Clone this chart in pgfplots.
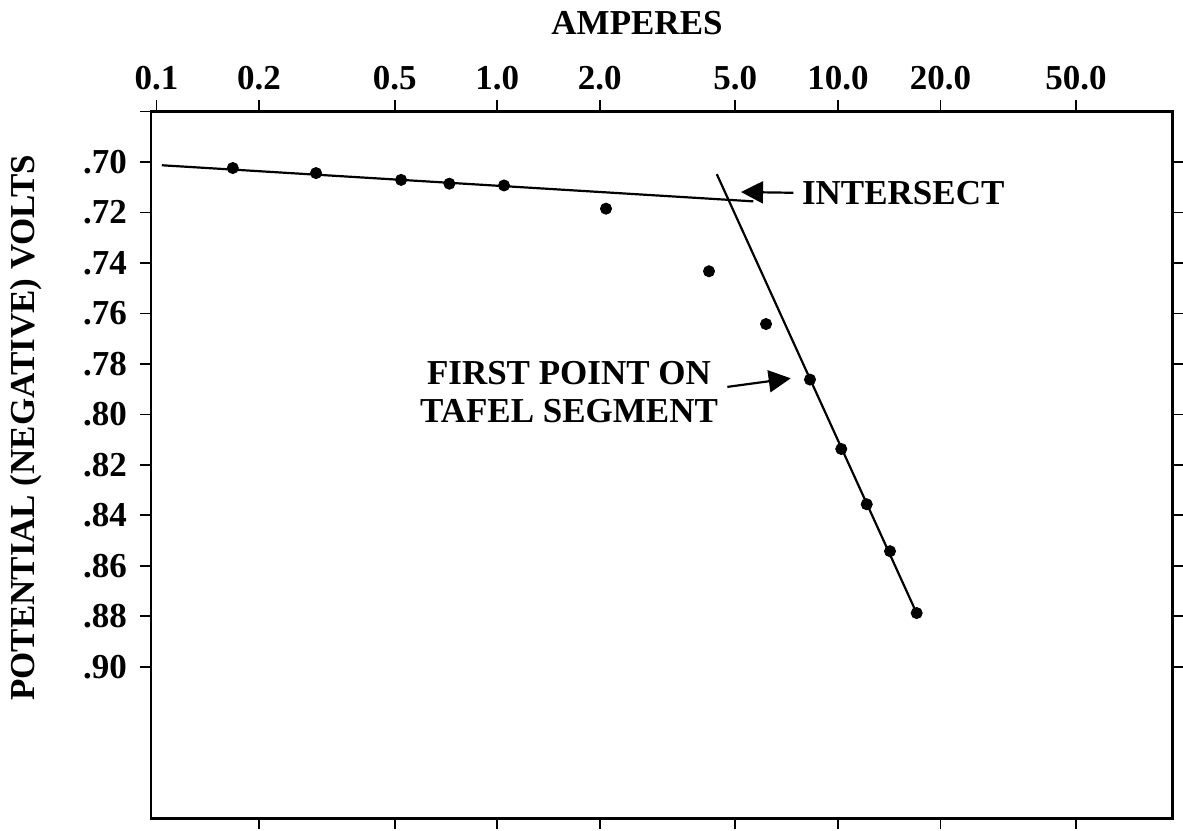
\documentclass[border=0pt]{standalone}
\usepackage{fontspec}
\setmainfont{Liberation Serif}
\usepackage{pgfplots}
\pgfplotsset{compat=1.18}
\usetikzlibrary{arrows.meta}
\newcommand{\bigb}{\fontsize{17.5}{19}\selectfont\bfseries}

\begin{document}
\begin{tikzpicture}
\begin{axis}[name=ax, scale only axis, width=510.85pt, height=353.4pt,
  xmode=log, xmin=0.0963, xmax=96.1, ymin=0.68, ymax=0.96, y dir=reverse,
  xtick={0.2,0.5,1,2,5,10,20,50},
  xticklabels={0.2,0.5,1.0,2.0,5.0,10.0,20.0,50.0},
  extra x ticks={0.1}, extra x tick labels={0.1},
  extra x tick style={xtick pos=right, xticklabel pos=right},
  xtick pos=both, xticklabel pos=right, xminorticks=false,
  ytick={0.70,0.72,0.74,0.76,0.78,0.80,0.82,0.84,0.86,0.88,0.90},
  yticklabels={.70,.72,.74,.76,.78,.80,.82,.84,.86,.88,.90},
  extra y ticks={0.68}, extra y tick labels={},
  extra y tick style={ytick pos=left},
  ytick pos=both, yticklabel pos=left,
  tick align=outside, major tick length=5.5pt,
  axis line style={line width=1.4pt},
  every tick/.style={line width=0.9pt, black},
  tick label style={font=\bigb},
  xticklabel style={yshift=1.5pt}, yticklabel style={xshift=-3pt},
  clip=false]
\addplot[only marks, mark=*, mark size=2.8pt, black] coordinates {
  (0.1674,0.7024) (0.2938,0.7044) (0.522,0.7071) (0.7236,0.7086) (1.047,0.7093)
  (2.086,0.7185) (4.184,0.7433) (6.152,0.7642) (8.28,0.7862) (10.23,0.8137)
  (12.15,0.8356) (14.22,0.8542) (17.03,0.8787)};
\addplot[black, line width=1.1pt] coordinates {(0.1036,0.7013) (5.646,0.7156)};
\addplot[black, line width=1.1pt] coordinates {(4.410,0.7048) (17.22,0.8802)};
\draw[line width=1.1pt, -{Triangle[length=11pt,width=11pt]}] (7.40,0.7122) -- (5.195,0.7119);
\node[anchor=west, font=\bigb, inner sep=0pt] at (7.83,0.7123) {INTERSECT};
\draw[line width=1.1pt, -{Triangle[length=11pt,width=11pt]}] (4.736,0.7891) -- (7.27,0.7857);
\node[font=\bigb, align=center, inner sep=0pt] at (1.624,0.7912) {FIRST POINT ON\\TAFEL SEGMENT};
\end{axis}
\node[font=\bigb] at ([shift={(243pt,44pt)}]ax.north west) {AMPERES};
\node[font=\bigb, rotate=90] at ([shift={(-62.6pt,-158.25pt)}]ax.north west) {POTENTIAL (NEGATIVE) VOLTS};
\pgfresetboundingbox
\path ([shift={(-75.5pt,-6.35pt)}]ax.south west) rectangle ([shift={(5.15pt,55.75pt)}]ax.north east);
\end{tikzpicture}
\end{document}
